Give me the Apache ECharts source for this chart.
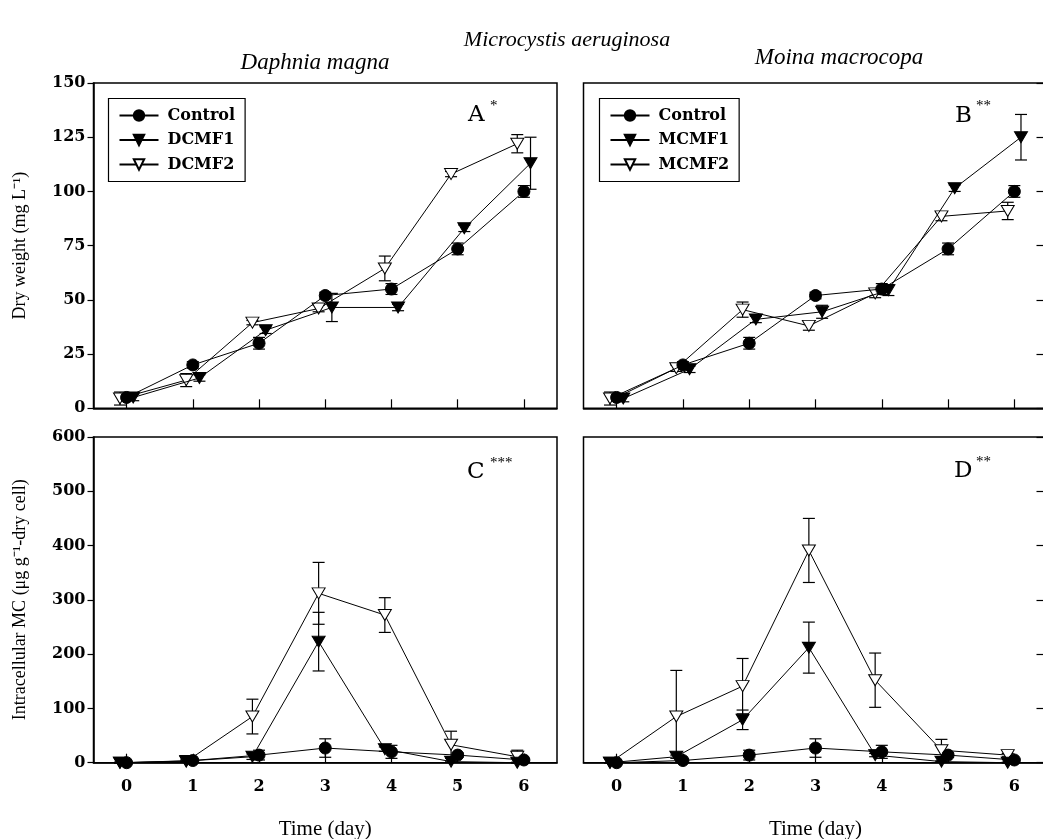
<!DOCTYPE html>
<html>
<head>
<meta charset="utf-8">
<script src="https://cdn.jsdelivr.net/npm/echarts@6/dist/echarts.min.js"></script>
<style>
  html, body { margin: 0; padding: 0; background: #fff; }
  #chart { width: 1043px; height: 839px; }
</style>
</head>
<body>
<div id="chart"></div>
<script>
// ---------------- data ----------------
var days = [0, 1, 2, 3, 4, 5, 6];

// dry weight, mg L-1
var dwControl     = [5, 20, 30, 52, 55, 73.5, 100];
var dwControlErr  = [1.5, 1.5, 2.7, 1.5, 2.5, 2.7, 2.7];
var dwDCMF1       = [5, 14, 36, 46.5, 46.5, 83, 113];
var dwDCMF1Err    = [1.5, 1.5, 1.5, 6.5, 1.5, 1.5, 12];
var dwDCMF2       = [4.5, 13, 39.5, 46, 64.5, 108, 122];
var dwDCMF2Err    = [3, 3, 1, 1.5, 5.7, 1.2, 4.2];
var dwMCMF1       = [4.5, 18, 41, 44.5, 54.5, 101.5, 125];
var dwMCMF1Err    = [1.5, 1.5, 1.5, 3, 2.5, 1.5, 10.5];
var dwMCMF2       = [4.5, 18.5, 45.5, 38, 53, 88.5, 91];
var dwMCMF2Err    = [3, 1.5, 3.5, 2, 2, 2, 4];

// intracellular MC, ug g-1 dry cell
var mcControl     = [0, 4, 14, 27, 20, 14, 5];
var mcControlErr  = [1, 3, 9, 17, 12, 4, 2];
var mcDCMF1       = [0, 3, 11, 223, 25, 2, 0];
var mcDCMF1Err    = [1, 2, 5, 54, 4, 1, 1];
var mcDCMF2       = [0, 2, 85, 312, 272, 33, 11];
var mcDCMF2Err    = [0, 1, 32, 57, 32, 25, 12];
var mcMCMF1       = [0, 11, 79, 212, 14, 2, 0];
var mcMCMF1Err    = [0, 3, 18, 47, 3, 1, 1];
var mcMCMF2       = [0, 85, 141, 391, 152, 23, 14];
var mcMCMF2Err    = [0, 85, 51, 59, 50, 20, 3];

var dwTicks = [0, 25, 50, 75, 100, 125, 150];
var mcTicks = [0, 100, 200, 300, 400, 500, 600];

// ---------------- styles ----------------
var SERIF = '"DejaVu Serif", serif';
var TIMES = '"Liberation Serif", serif';
var BLACK = '#000';

// small horizontal dodge of the groups (in days), per row of panels
var topDodge = [0, 0.1, -0.1];
var botDodge = [0, -0.1, -0.1];

var markers = [
    { symbol: 'circle',   size: 12, rotate: 0,   fill: BLACK },
    { symbol: 'triangle', size: [13, 11], rotate: 180, fill: BLACK },
    { symbol: 'triangle', size: [13, 11], rotate: 180, fill: '#fff' }
];

var panels = [
    { grid: { left: 93.5, top: 83, width: 463.5, height: 325.3 }, names: ['Control', 'DCMF1', 'DCMF2'],
      vals: [dwControl, dwDCMF1, dwDCMF2], errs: [dwControlErr, dwDCMF1Err, dwDCMF2Err],
      dodge: topDodge, ticks: dwTicks, side: 'left', name: 'Dry weight (mg L\u207B\u00B9)', xLabel: false },
    { grid: { left: 583.5, top: 83, width: 464, height: 325.3 }, names: ['Control', 'MCMF1', 'MCMF2'],
      vals: [dwControl, dwMCMF1, dwMCMF2], errs: [dwControlErr, dwMCMF1Err, dwMCMF2Err],
      dodge: topDodge, ticks: dwTicks, side: 'right', name: '', xLabel: false },
    { grid: { left: 93.5, top: 437, width: 463.5, height: 325.7 }, names: ['Control', 'DCMF1', 'DCMF2'],
      vals: [mcControl, mcDCMF1, mcDCMF2], errs: [mcControlErr, mcDCMF1Err, mcDCMF2Err],
      dodge: botDodge, ticks: mcTicks, side: 'left', name: 'Intracellular MC (\u03BCg g\u207B\u00B9-dry cell)', xLabel: true },
    { grid: { left: 583.5, top: 437, width: 464, height: 325.7 }, names: ['Control', 'MCMF1', 'MCMF2'],
      vals: [mcControl, mcMCMF1, mcMCMF2], errs: [mcControlErr, mcMCMF1Err, mcMCMF2Err],
      dodge: botDodge, ticks: mcTicks, side: 'right', name: '', xLabel: true }
];

function renderErr(params, api) {
    var x = api.value(0);
    var pLo = api.coord([x, api.value(1)]);
    var pHi = api.coord([x, api.value(2)]);
    var w = 6;
    var st = { stroke: BLACK, lineWidth: 1.2 };
    return {
        type: 'group',
        children: [
            { type: 'line', shape: { x1: pLo[0], y1: pLo[1], x2: pHi[0], y2: pHi[1] }, style: st },
            { type: 'line', shape: { x1: pLo[0] - w, y1: pLo[1], x2: pLo[0] + w, y2: pLo[1] }, style: st },
            { type: 'line', shape: { x1: pHi[0] - w, y1: pHi[1], x2: pHi[0] + w, y2: pHi[1] }, style: st }
        ]
    };
}

var grids = [], xAxes = [], yAxes = [], series = [];

panels.forEach(function (p, gi) {
    grids.push(Object.assign({ show: true, borderColor: BLACK, borderWidth: 1.5,
                               containLabel: false, outerBoundsMode: 'none' }, p.grid));

    xAxes.push({
        gridIndex: gi, type: 'value', min: -0.5, max: 6.5,
        axisLine: { show: true, onZero: false, lineStyle: { color: BLACK, width: 1.5 } },
        axisTick: { show: true, inside: true, length: 9, customValues: days, lineStyle: { color: BLACK, width: 1.2 } },
        axisLabel: { show: p.xLabel, customValues: days, margin: 16, color: BLACK,
                     fontFamily: SERIF, fontWeight: 'bold', fontSize: 16 },
        splitLine: { show: false },
        name: p.xLabel ? 'Time (day)' : '', nameLocation: 'middle', nameGap: 56,
        nameTextStyle: { fontFamily: TIMES, fontSize: 21, color: BLACK }
    });

    var left = p.side === 'left';
    yAxes.push({
        gridIndex: gi, type: 'value', position: p.side,
        min: p.ticks[0], max: p.ticks[p.ticks.length - 1], interval: p.ticks[1] - p.ticks[0],
        axisLine: { show: true, onZero: false, lineStyle: { color: BLACK, width: 1.5 } },
        axisTick: { show: true, inside: !left, length: left ? 6 : 11, lineStyle: { color: BLACK, width: 1.2 } },
        axisLabel: { show: left, margin: 8, color: BLACK, fontFamily: SERIF, fontWeight: 'bold', fontSize: 16 },
        splitLine: { show: false },
        name: p.name, nameLocation: 'middle', nameRotate: 90, nameGap: 64,
        nameTextStyle: { fontFamily: TIMES, fontSize: 18, color: BLACK }
    });

    // error bars first, so the markers sit on top
    p.names.forEach(function (nm, k) {
        series.push({
            type: 'custom', xAxisIndex: gi, yAxisIndex: gi, z: 1, silent: true,
            renderItem: renderErr,
            data: days.map(function (d, i) {
                return [d + p.dodge[k], p.vals[k][i] - p.errs[k][i], p.vals[k][i] + p.errs[k][i]];
            })
        });
    });
    // draw in order: DCMF2, DCMF1, Control (control on top)
    [2, 1, 0].forEach(function (k) {
        var m = markers[k];
        series.push({
            type: 'line', name: p.names[k], xAxisIndex: gi, yAxisIndex: gi, z: 3 + (2 - k),
            symbol: m.symbol, symbolSize: m.size, symbolRotate: m.rotate, showAllSymbol: true,
            lineStyle: { color: BLACK, width: 1 },
            itemStyle: { color: m.fill, borderColor: BLACK, borderWidth: 1 },
            emphasis: { disabled: true },
            animation: false,
            data: days.map(function (d, i) { return [d + p.dodge[k], p.vals[k][i]]; })
        });
    });
});

function legendFor(names, left) {
    return {
        data: names, orient: 'vertical', left: left, top: 98.5,
        selectedMode: false,
        itemWidth: 39, itemHeight: 13, itemGap: 8.5,
        padding: [9, 10, 9, 10],
        borderColor: BLACK, borderWidth: 1.2, backgroundColor: '#fff',
        textStyle: { fontFamily: SERIF, fontWeight: 'bold', fontSize: 16, color: BLACK,
                     lineHeight: 16, padding: [0, 0, 0, 4] }
    };
}

function txt(s, x, y, font, align) {
    return { type: 'text', x: x, y: y, z: 10,
             style: { text: s, font: font, fill: BLACK, align: align || 'left', verticalAlign: 'middle' } };
}

var chart = echarts.init(document.getElementById('chart'), null, { renderer: 'canvas' });
chart.setOption({
    animation: false,
    backgroundColor: '#fff',
    grid: grids,
    xAxis: xAxes,
    yAxis: yAxes,
    legend: [legendFor(panels[0].names, 108.5), legendFor(panels[1].names, 599.5)],
    graphic: [
        txt('Microcystis aeruginosa', 567, 40, 'italic 22px "Liberation Serif"', 'center'),
        txt('Daphnia magna', 315, 63, 'italic 23px "Liberation Serif"', 'center'),
        txt('Moina macrocopa', 839, 58, 'italic 23px "Liberation Serif"', 'center'),
        txt('A', 468, 115, '23px "DejaVu Serif"'),
        txt('*', 490, 106, '15px "Liberation Serif"'),
        txt('B', 955, 116, '23px "DejaVu Serif"'),
        txt('**', 976, 106, '15px "Liberation Serif"'),
        txt('C', 467, 472, '23px "DejaVu Serif"'),
        txt('***', 490, 463, '15px "Liberation Serif"'),
        txt('D', 954, 471, '23px "DejaVu Serif"'),
        txt('**', 976, 462, '15px "Liberation Serif"')
    ],
    series: series
});
</script>
</body>
</html>
